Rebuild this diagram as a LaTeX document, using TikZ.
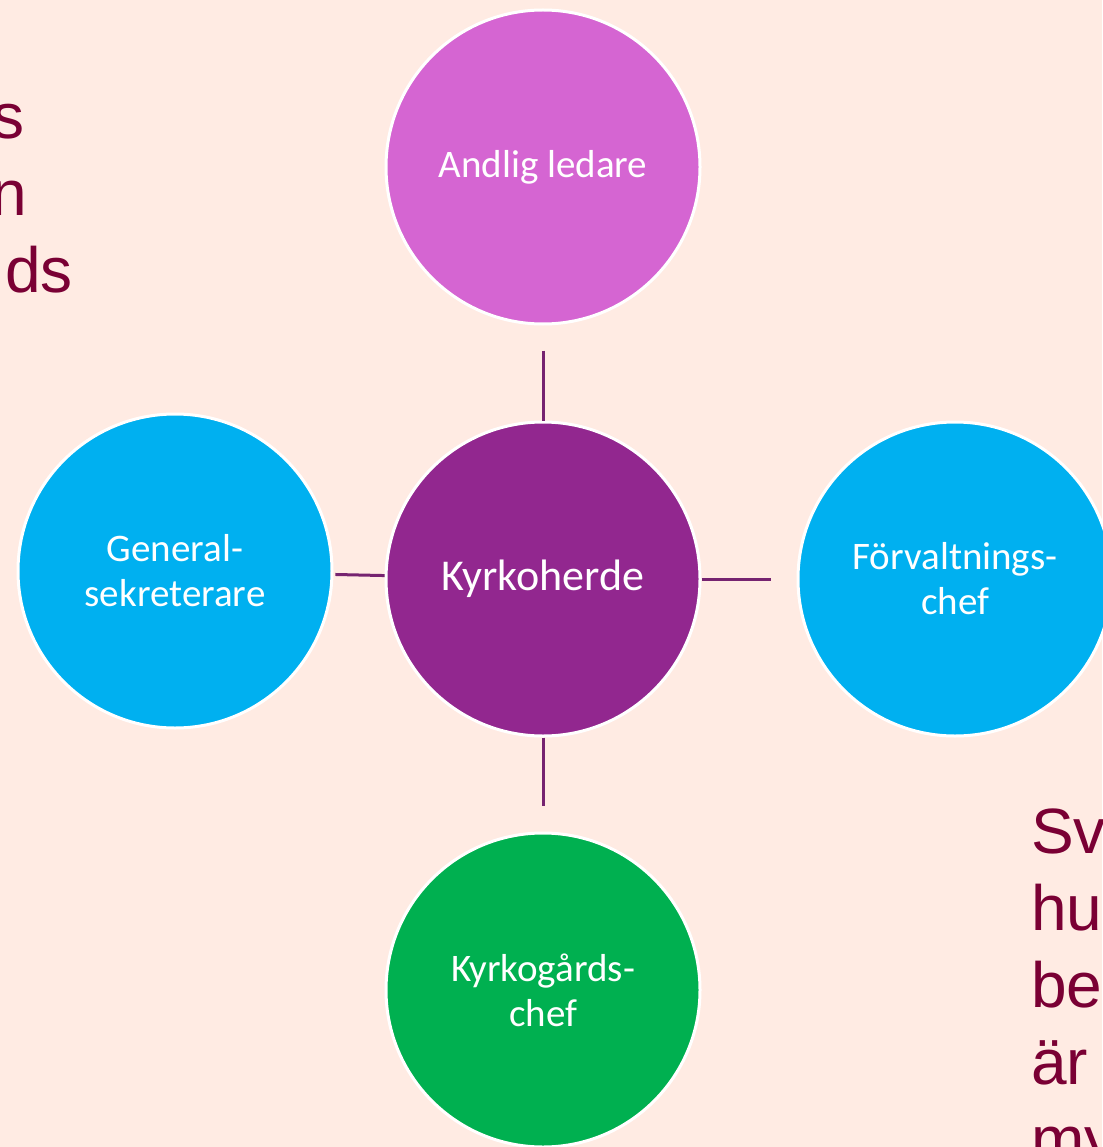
\documentclass[tikz,border=0pt]{standalone}
\usepackage{fontspec}
\setmainfont{Carlito}
\newfontfamily\bigfont{Liberation Sans}
\definecolor{bgc}{RGB}{255,235,227}
\definecolor{txtc}{RGB}{122,0,52}
\definecolor{linec}{RGB}{118,35,112}
\definecolor{orchidc}{RGB}{213,101,210}
\definecolor{purplec}{RGB}{146,39,143}
\definecolor{bluec}{RGB}{0,176,240}
\definecolor{greenc}{RGB}{0,176,80}
\begin{document}
\begin{tikzpicture}[x=1pt,y=-1pt,
  bubble/.style={circle,draw=white,line width=3pt,minimum size=314pt,inner sep=0pt,
    text=white,align=center,font=\fontsize{39}{45}\selectfont},
  conn/.style={draw=linec,line width=3pt},
  side/.style={inner sep=0pt,text=txtc,font=\bigfont\fontsize{64}{77}\selectfont}]
\useasboundingbox (0,0) rectangle (1102,1147);
\fill[bgc] (0,0) rectangle (1102,1147);
% side texts (cut by the page edge)
\node[side,anchor=base east] (l1) at (25,139) {s};
\node[side,anchor=base east] (l2) at (27,216) {n};
\node[side,anchor=base east] (l3) at (73,293) {ds};
\node[side,anchor=base west] (r1) at (1031,853) {Sv};
\node[side,anchor=base west] (r2) at (1031,930) {hu};
\node[side,anchor=base west] (r3) at (1031,1007) {be};
\node[side,anchor=base west] (r4) at (1031,1084) {är};
\node[side,anchor=base west] (r5) at (1031,1161) {my};
% circles
\node[bubble,fill=orchidc] (andlig) at (543,167) {Andlig ledare};
\node[bubble,fill=purplec,font=\fontsize{44}{50}\selectfont] (kyrko) at (543,579) {Kyrkoherde};
\node[bubble,fill=bluec] (gen) at (175,571) {General-\\sekreterare};
\node[bubble,fill=bluec] (forv) at (955,579) {Förvaltnings-\\chef};
\node[bubble,fill=greenc] (kgard) at (543,990) {Kyrkogårds-\\chef};
% connectors
\draw[conn,shorten <=25pt] (andlig) -- (kyrko);
\draw[conn,shorten >=26pt] (kyrko) -- (kgard);
\draw[conn,shorten <=2pt] (gen) -- (kyrko);
\draw[conn,shorten >=26pt] (kyrko) -- (forv);
\end{tikzpicture}
\end{document}
